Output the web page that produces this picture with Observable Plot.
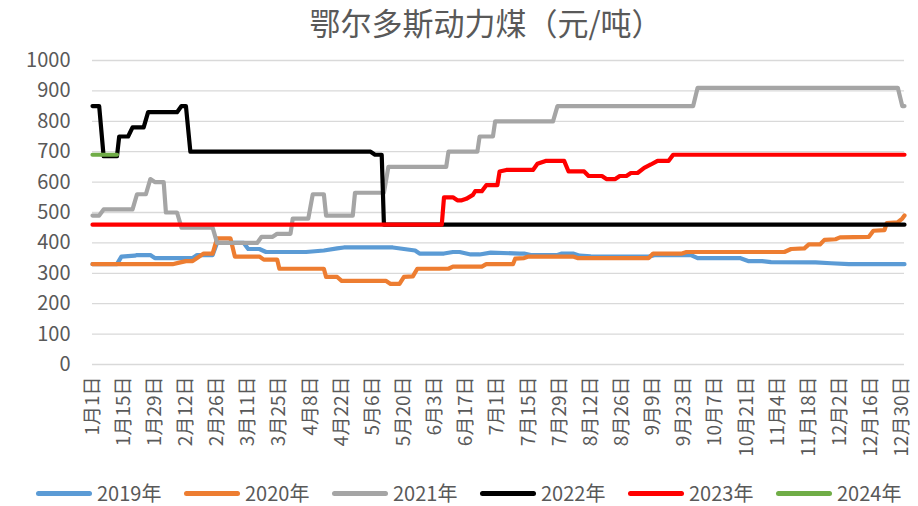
<!DOCTYPE html>
<html><head><meta charset="utf-8">
<script src="https://cdn.jsdelivr.net/npm/d3@7"></script>
<script src="https://cdn.jsdelivr.net/npm/@observablehq/plot@0.6"></script>
<style>
body{margin:0;background:#fff;font-family:"Noto Sans CJK SC","Noto Sans",sans-serif;}
#wrap{position:relative;width:918px;height:506px;overflow:hidden;background:#fff}
#title{position:absolute;top:1px;left:27px;width:918px;text-align:center;font-size:31px;color:#595959;line-height:42px}
#chart{position:absolute;top:0;left:0}
#legend{position:absolute;top:479px;left:36px;display:flex;font-size:20px;color:#595959;line-height:28px}
.item{display:flex;align-items:center;width:148px}
.sw{width:56px;height:5px;border-radius:3px;margin-right:5px}
</style></head>
<body>
<div id="wrap">
  <div id="chart"></div>
  <div id="title">鄂尔多斯动力煤（元/吨）</div>
  <div id="legend"></div>
</div>
<script>
// x: day of year (0 = 1月1日) (元/吨)
const tickLabels = ["1月1日","1月15日","1月29日","2月12日","2月26日","3月11日","3月25日","4月8日","4月22日","5月6日","5月20日","6月3日","6月17日","7月1日","7月15日","7月29日","8月12日","8月26日","9月9日","9月23日","10月7日","10月21日","11月4日","11月18日","12月2日","12月16日","12月30日"];
const yTicks = [0,100,200,300,400,500,600,700,800,900,1000];
const seriesNames = ["2019年","2020年","2021年","2022年","2023年","2024年"];
const seriesColors = ["#5B9BD5","#ED7D31","#A5A5A5","#000000","#FF0000","#70AD47"];

const s2019 = [[0,330],[11,330],[13,355],[19,358],[20,360],[26,360],[28,350],[45,350],[47,360],[54,360],[56,400],[68,400],[70,380],[75,380],[78,370],[96,370],[104,375],[110,382],[113,385],[135,385],[140,380],[145,375],[147,365],[158,365],[162,370],[165,370],[170,362],[174,362],[179,368],[192,365],[194,365],[197,360],[209,360],[211,365],[216,365],[219,358],[224,356],[250,355],[253,360],[269,360],[272,350],[291,350],[295,340],[301,340],[305,337],[325,336],[332,333],[340,330],[365,330]];
const s2020 = [[0,330],[36,330],[39,335],[42,340],[45,340],[47,350],[49,360],[50,365],[54,365],[56,415],[62,415],[64,355],[75,355],[77,345],[83,345],[84,315],[104,315],[105,288],[110,288],[112,275],[132,275],[134,265],[138,265],[140,288],[144,290],[146,315],[160,315],[162,322],[175,322],[177,330],[189,330],[190,348],[194,350],[196,355],[216,355],[218,350],[250,350],[252,365],[265,365],[267,370],[311,370],[314,380],[320,382],[322,395],[327,395],[329,410],[334,412],[336,418],[349,420],[351,440],[356,442],[357,465],[362,468],[364,480],[365,490]];
const s2021 = [[0,490],[3,490],[5,510],[18,510],[20,560],[24,560],[26,610],[28,600],[32,600],[33,500],[38,500],[40,450],[54,450],[56,400],[74,400],[76,420],[81,420],[83,430],[89,430],[90,480],[97,480],[99,560],[104,560],[105,490],[117,490],[118,565],[131,565],[133,650],[159,650],[160,700],[173,700],[174,750],[180,750],[181,800],[207,800],[209,850],[270,850],[272,910],[362,910],[364,850],[365,850]];
const s2022 = [[0,850],[3,850],[5,685],[11,685],[12,750],[16,750],[18,780],[23,780],[25,830],[38,830],[40,850],[42,850],[44,700],[125,700],[127,690],[130,690],[131,460],[365,460]];
const s2023 = [[0,460],[157,460],[158,550],[162,550],[164,540],[166,540],[168,545],[171,558],[172,570],[175,570],[177,590],[182,590],[183,635],[186,640],[198,640],[200,660],[202,665],[204,670],[212,670],[214,635],[221,635],[223,620],[229,620],[231,610],[235,610],[237,620],[240,620],[242,630],[245,630],[248,647],[251,658],[254,670],[259,670],[261,690],[365,690]];
const s2024 = [[0,690],[11,690]];

const allSeries = [s2019,s2020,s2021,s2022,s2023,s2024];

const lineMarks = allSeries.map((s, i) => Plot.line(s, {
  x: d => d[0], y: d => d[1], stroke: seriesColors[i], strokeWidth: 4.2,
  strokeLinejoin: "round", strokeLinecap: "round"
}));

const chart = Plot.plot({
  width: 918, height: 475,
  marginTop: 60, marginBottom: 111, marginLeft: 92, marginRight: 14,
  style: {fontFamily: '"Noto Sans CJK SC","Noto Sans",sans-serif', fontSize: "20px", color: "#595959", background: "#fff"},
  x: {type: "linear", domain: [0, 365]},
  y: {domain: [0, 1000]},
  marks: [
    Plot.gridY(yTicks, {stroke: "#d9d9d9", strokeOpacity: 1, strokeWidth: 1.3}),
    Plot.axisY(yTicks, {tickSize: 0, tickPadding: 22, label: null, fontSize: 20, fill: "#595959", tickFormat: d => String(d)}),
    Plot.axisX(tickLabels.map((_, i) => i * 14), {
      tickSize: 0, tickPadding: 12, tickRotate: -90, label: null, fontSize: 19, fill: "#595959",
      tickFormat: d => tickLabels[Math.round(d / 14)]
    }),
    ...lineMarks
  ]
});
document.getElementById("chart").appendChild(chart);

const legend = document.getElementById("legend");
seriesNames.forEach((n, i) => {
  const it = document.createElement("div");
  it.className = "item";
  it.innerHTML = `<span class="sw" style="background:${seriesColors[i]}"></span><span>${n}</span>`;
  legend.appendChild(it);
});
</script>
</body></html>
